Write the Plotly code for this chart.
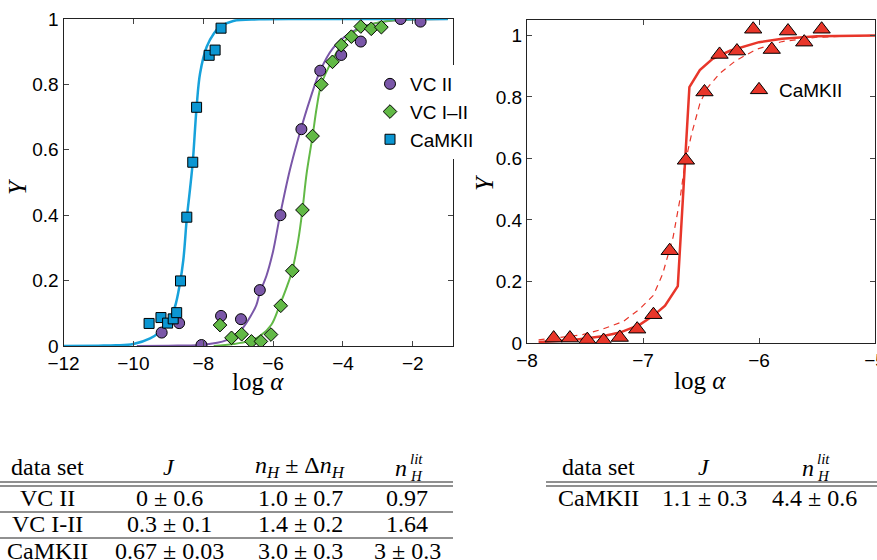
import plotly.graph_objects as go

# ---------------- data ----------------
# Left panel: measured points
vc2_x = [-9.19, -8.69, -8.05, -7.49, -6.92, -6.38, -5.79, -5.19, -4.65, -4.05, -3.49, -2.35, -1.78]
vc2_y = [0.041, 0.070, 0.003, 0.092, 0.082, 0.171, 0.400, 0.663, 0.842, 0.890, 0.931, 1.000, 0.992]

vc12_x = [-7.52, -7.19, -6.90, -6.62, -6.35, -6.06, -5.78, -5.45, -5.16, -4.87, -4.62, -4.30, -4.05,
          -3.76, -3.49, -3.19, -2.90]
vc12_y = [0.064, 0.025, 0.036, 0.014, 0.014, 0.035, 0.123, 0.230, 0.416, 0.642, 0.800, 0.869, 0.920,
          0.946, 0.977, 0.970, 0.975]

cam_x = [-9.55, -9.21, -9.02, -8.86, -8.76, -8.65, -8.47, -8.30, -8.19, -7.83, -7.66, -7.49]
cam_y = [0.069, 0.087, 0.070, 0.083, 0.102, 0.199, 0.394, 0.562, 0.730, 0.889, 0.905, 0.972]

# Left panel: fitted curves (sampled along the drawn curves)
vc2_fx = [-9.9, -9.0, -8.1, -7.6, -7.33, -7.1, -6.86, -6.65, -6.48, -6.38, -6.19, -6.0, -5.81,
          -5.52, -5.24, -4.95, -4.65, -4.29, -3.81, -3.33, -2.57, -1.8, -1.0]
vc2_fy = [0.0, 0.001, 0.003, 0.01, 0.018, 0.03, 0.056, 0.09, 0.125, 0.163, 0.215, 0.29, 0.395,
          0.538, 0.65, 0.752, 0.842, 0.91, 0.956, 0.98, 0.995, 0.999, 1.0]

vc12_fx = [-7.7, -7.14, -6.7, -6.38, -6.05, -5.81, -5.6, -5.45, -5.28, -5.16, -5.04, -4.87, -4.75,
           -4.62, -4.30, -4.0, -3.52, -2.86, -1.9, -1.0]
vc12_fy = [0.0, 0.006, 0.015, 0.03, 0.065, 0.125, 0.183, 0.232, 0.324, 0.416, 0.528, 0.642, 0.73,
           0.80, 0.875, 0.926, 0.971, 0.992, 0.999, 1.0]

cam_fx = [-12.0, -11.0, -10.5, -10.0, -9.52, -9.24, -9.0, -8.81, -8.67, -8.57, -8.47, -8.38, -8.30,
          -8.19, -8.09, -7.90, -7.70, -7.52, -7.14, -6.40, -5.0, -1.0]
cam_fy = [0.0, 0.001, 0.002, 0.006, 0.023, 0.044, 0.074, 0.12, 0.19, 0.263, 0.39, 0.478, 0.562,
          0.73, 0.834, 0.915, 0.955, 0.976, 0.994, 0.999, 1.0, 1.0]

# Right panel: measured points
cam2_x = [-7.77, -7.63, -7.48, -7.34, -7.20, -7.05, -6.91, -6.77, -6.63, -6.47, -6.34, -6.19,
          -6.05, -5.89, -5.75, -5.61, -5.46]
cam2_y = [0.016, 0.016, 0.011, 0.008, 0.018, 0.045, 0.092, 0.300, 0.594, 0.816, 0.938, 0.949,
          1.020, 0.954, 1.014, 0.978, 1.020]

# Right panel: solid fit and dashed fit
fit_x = [-7.90, -7.60, -7.35, -7.20, -7.03, -6.91, -6.81, -6.70, -6.60, -6.51, -6.40, -6.25,
         -6.00, -5.80, -5.50, -5.00]
fit_y = [0.003, 0.010, 0.022, 0.034, 0.059, 0.089, 0.121, 0.185, 0.832, 0.887, 0.924, 0.950,
         0.978, 0.989, 0.997, 1.000]
dash_x = [-7.90, -7.70, -7.52, -7.35, -7.17, -7.03, -6.91, -6.83, -6.74, -6.68, -6.64, -6.58,
          -6.51, -6.45, -6.34, -6.20, -6.02, -5.80, -5.50, -5.00]
dash_y = [0.010, 0.018, 0.027, 0.045, 0.070, 0.110, 0.155, 0.225, 0.345, 0.470, 0.580, 0.681,
          0.778, 0.827, 0.876, 0.918, 0.955, 0.980, 0.994, 1.000]

# Axis ticks
left_xticks = [-12, -10, -8, -6, -4, -2]
right_xticks = [-8, -7, -6, -5]
y_tickvals = [0, 0.2, 0.4, 0.6, 0.8, 1]
y_ticktext = ["0", "0.2", "0.4", "0.6", "0.8", "1"]

# Tables
tbl1_sets = ["VC II", "VC I-II", "CaMKII"]
tbl1_J = ["0 ± 0.6", "0.3 ± 0.1", "0.67 ± 0.03"]
tbl1_nH = ["1.0 ± 0.7", "1.4 ± 0.2", "3.0 ± 0.3"]
tbl1_nlit = ["0.97", "1.64", "3 ± 0.3"]
tbl2_sets = ["CaMKII"]
tbl2_J = ["1.1 ± 0.3"]
tbl2_nlit = ["4.4 ± 0.6"]

# ---------------- styling ----------------
W, H = 877, 560
PURPLE = "#7A57A8"
GREEN = "#62B946"
BLUE = "#0B96D2"
BLUE_L = "#17A2DB"
RED = "#E8362A"
SANS = "Liberation Sans"
SERIF = "Liberation Serif"


def px(x):
    return x / W


def py(y):
    return 1 - y / H


fig = go.Figure()

# curves (left)
fig.add_trace(go.Scatter(x=vc2_fx, y=vc2_fy, mode="lines", line=dict(color=PURPLE, width=2, shape="spline"),
                         showlegend=False, xaxis="x", yaxis="y", hoverinfo="skip"))
fig.add_trace(go.Scatter(x=vc12_fx, y=vc12_fy, mode="lines", line=dict(color=GREEN, width=2, shape="spline"),
                         showlegend=False, xaxis="x", yaxis="y", hoverinfo="skip"))
fig.add_trace(go.Scatter(x=cam_fx, y=cam_fy, mode="lines", line=dict(color=BLUE_L, width=2.5, shape="spline"),
                         showlegend=False, xaxis="x", yaxis="y", hoverinfo="skip"))

mk_line = dict(color="black", width=1)
fig.add_trace(go.Scatter(x=vc2_x, y=vc2_y, mode="markers", name="VC II",
                         marker=dict(symbol="circle", size=11, color=PURPLE, line=mk_line),
                         xaxis="x", yaxis="y", legend="legend"))
fig.add_trace(go.Scatter(x=vc12_x, y=vc12_y, mode="markers", name="VC I–II",
                         marker=dict(symbol="diamond", size=10.5, color=GREEN, line=mk_line),
                         xaxis="x", yaxis="y", legend="legend"))
fig.add_trace(go.Scatter(x=cam_x, y=cam_y, mode="markers", name="CaMKII",
                         marker=dict(symbol="square", size=10, color=BLUE, line=mk_line),
                         xaxis="x", yaxis="y", legend="legend"))

# right panel
fig.add_trace(go.Scatter(x=dash_x, y=dash_y, mode="lines", line=dict(color=RED, width=1.2, dash="6px,5px"),
                         showlegend=False, xaxis="x2", yaxis="y2", hoverinfo="skip"))
fig.add_trace(go.Scatter(x=fit_x, y=fit_y, mode="lines", line=dict(color=RED, width=2.5),
                         showlegend=False, xaxis="x2", yaxis="y2", hoverinfo="skip"))
fig.add_trace(go.Scatter(x=cam2_x, y=cam2_y, mode="markers", name="CaMKII",
                         marker=dict(symbol="triangle-up", size=15, color=RED, line=mk_line),
                         xaxis="x2", yaxis="y2", legend="legend2"))

axis_common = dict(showline=True, linecolor="#222222", linewidth=1, mirror="ticks", ticks="inside",
                   ticklen=5, tickcolor="#444444", showgrid=False, zeroline=False,
                   tickfont=dict(family=SANS, size=19, color="black"), automargin=False)

fig.update_layout(
    width=W, height=H, autosize=False,
    margin=dict(l=0, r=0, t=0, b=0),
    paper_bgcolor="white", plot_bgcolor="white",
    xaxis=dict(domain=[px(63.5), px(453)], range=[-12, -0.85], tickvals=left_xticks, anchor="y",
               **axis_common),
    yaxis=dict(domain=[py(346), py(19)], range=[0, 1], tickvals=y_tickvals, ticktext=y_ticktext,
               anchor="x", **axis_common),
    xaxis2=dict(domain=[px(527), px(875)], range=[-8, -5], tickvals=right_xticks, anchor="y2",
                ticklabeloverflow="allow", **axis_common),
    yaxis2=dict(domain=[py(343), py(20)], range=[0, 1.05], tickvals=y_tickvals, ticktext=y_ticktext,
                anchor="x2", **axis_common),
    legend=dict(x=px(370), y=py(65), xanchor="left", yanchor="top", bgcolor="white",
                font=dict(family=SANS, size=19, color="black"), tracegroupgap=0),
    legend2=dict(x=px(739), y=py(71), xanchor="left", yanchor="top", bgcolor="rgba(0,0,0,0)",
                 font=dict(family=SANS, size=19, color="black")),
    showlegend=True,
)

annotations = []


def txt(x, y, s, size=24, angle=0, xanchor="center", family=SERIF):
    annotations.append(dict(x=px(x), y=py(y), xref="paper", yref="paper", text=s, showarrow=False,
                            xanchor=xanchor, yanchor="middle", textangle=angle,
                            font=dict(family=family, size=size, color="black")))


# axis titles
txt(18, 187, "<i>Y</i>", size=25, angle=-90)
txt(258, 381, "log <i>α</i>", size=25)
txt(485, 183, "<i>Y</i>", size=25, angle=-90)
txt(700, 380, "log <i>α</i>", size=25)

# ---- left table ----
c1 = [47, 169, 300, 407]
hdr_y = 467
row_y = [498, 524, 551]
txt(c1[0], hdr_y, "data set")
txt(c1[1], hdr_y, "<i>J</i>")
txt(c1[2], hdr_y, "<i>n</i><sub><i>H</i></sub> ± Δ<i>n</i><sub><i>H</i></sub>")


def nlit(cx, cy):
    txt(cx - 6, cy + 1, "<i>n</i>")
    txt(cx + 1, cy - 8, "<i>lit</i>", size=15, xanchor="left")
    txt(cx + 1, cy + 9, "<i>H</i>", size=15, xanchor="left")


nlit(c1[3], hdr_y)
for i in range(len(tbl1_sets)):
    txt(c1[0], row_y[i], tbl1_sets[i])
    txt(c1[1], row_y[i], tbl1_J[i])
    txt(c1[2], row_y[i], tbl1_nH[i])
    txt(c1[3], row_y[i], tbl1_nlit[i])

# ---- right table ----
c2 = [598, 704, 814]
txt(c2[0], hdr_y, "data set")
txt(c2[1], hdr_y, "<i>J</i>")
nlit(c2[2], hdr_y)
for i in range(len(tbl2_sets)):
    txt(c2[0], row_y[i], tbl2_sets[i])
    txt(c2[1], row_y[i], tbl2_J[i])
    txt(c2[2], row_y[i], tbl2_nlit[i])

fig.update_layout(annotations=annotations)

shapes = []


def hline(x0, x1, y, w=1.2):
    shapes.append(dict(type="line", xref="paper", yref="paper", x0=px(x0), x1=px(x1), y0=py(y), y1=py(y),
                       line=dict(color="#222222", width=w)))


hline(0, 453, 482)
hline(0, 453, 486)
hline(0, 453, 512)
hline(0, 453, 538)
hline(546, 877, 482)
hline(546, 877, 486)
fig.update_layout(shapes=shapes)

fig.write_html(
    "out.html",
    config={"responsive": False, "displayModeBar": False},
    post_script="document.body.style.margin='0';document.body.style.padding='0';"
                "Plotly.relayout('{plot_id}', {width: 877, height: 560});",
)
